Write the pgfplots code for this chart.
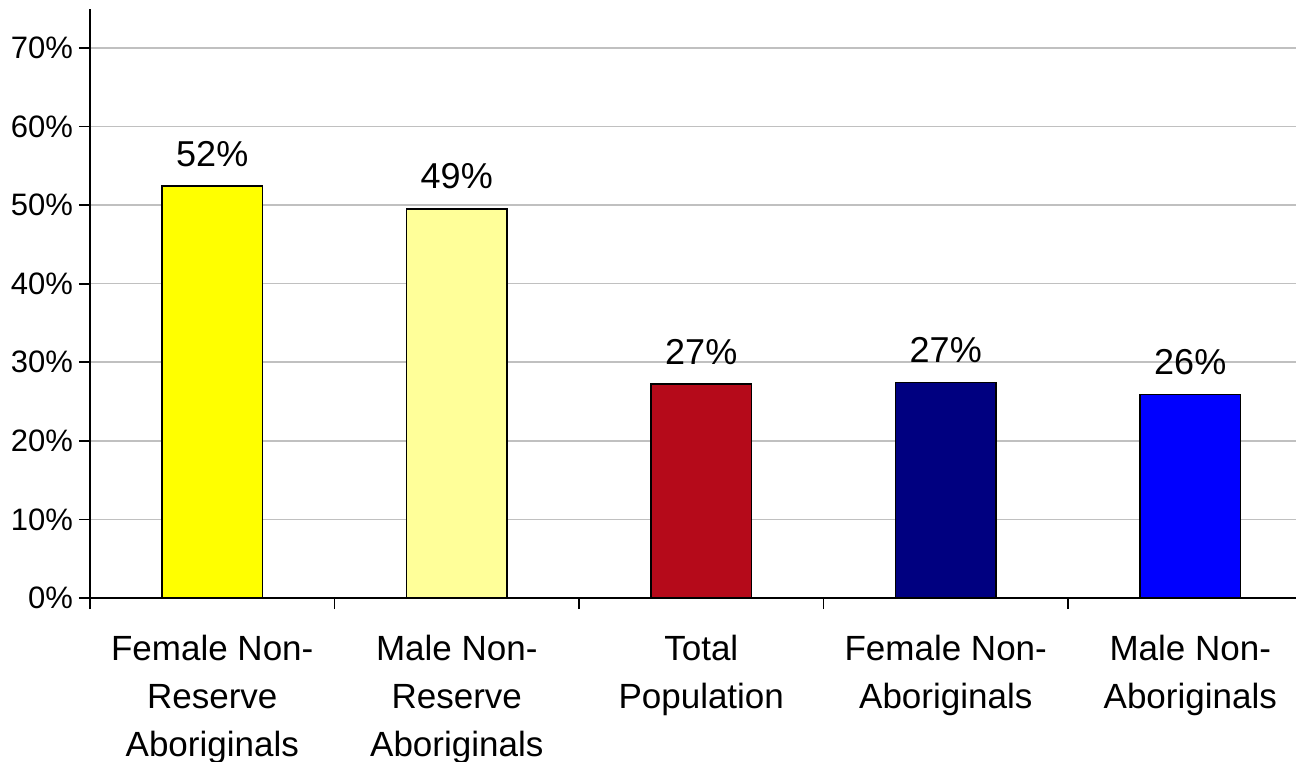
\documentclass[border=0pt]{standalone}
\usepackage{fontspec}
\setmainfont{Liberation Sans}
\usepackage{pgfplots}
\pgfplotsset{compat=1.18}

\definecolor{cyel}{HTML}{FFFF00}
\definecolor{clyel}{HTML}{FFFF99}
\definecolor{cred}{HTML}{B50A1A}
\definecolor{cnavy}{HTML}{000080}
\definecolor{cblue}{HTML}{0000FF}
\definecolor{cgrid}{HTML}{C0C0C0}

\begin{document}
\begin{tikzpicture}
\begin{axis}[
  at={(0,0)}, anchor=south west,
  scale only axis,
  width=611.25pt, height=294.75pt,
  xmin=-0.5, xmax=4.5,
  ymin=0, ymax=75,
  ybar, bar shift=0pt, bar width=0.41,
  axis x line=bottom, axis y line=left,
  axis line style={-, black, line width=0.9pt},
  tick align=outside,
  major tick length=5.5pt,
  tick style={black, line width=0.9pt},
  ytick={0,10,...,70},
  yticklabel={\pgfmathprintnumber{\tick}\%},
  yticklabel style={font=\fontsize{15.5}{18}\selectfont, xshift=0.5pt},
  ymajorgrids,
  grid style={cgrid, line width=0.8pt},
  xtick={-0.5,0.5,...,4.5},
  xticklabels={},
  extra x ticks={0,1,2,3,4},
  extra x tick labels={{Female Non-\\Reserve\\Aboriginals},{Male Non-\\Reserve\\Aboriginals},{Total\\Population},{Female Non-\\Aboriginals},{Male Non-\\Aboriginals}},
  extra x tick style={major tick length=0pt, grid=none},
  xticklabel style={font=\fontsize{17.5}{24}\selectfont, align=center, anchor=north, yshift=-15pt},
  point meta=explicit symbolic,
  nodes near coords,
  every node near coord/.append style={font=\fontsize{18}{22}\selectfont, anchor=base, yshift=10pt},
  /pgf/number format/assume math mode=true,
]
\addplot[fill=cyel, draw=black, line width=0.8pt] coordinates {(0,52.4) [52\%]};
\addplot[fill=clyel, draw=black, line width=0.8pt] coordinates {(1,49.5) [49\%]};
\addplot[fill=cred, draw=black, line width=0.8pt] coordinates {(2,27.2) [27\%]};
\addplot[fill=cnavy, draw=black, line width=0.8pt] coordinates {(3,27.4) [27\%]};
\addplot[fill=cblue, draw=black, line width=0.8pt] coordinates {(4,25.9) [26\%]};
\end{axis}
\pgfresetboundingbox
\useasboundingbox (-45pt,-81.5pt) rectangle (603pt,299pt);
\end{tikzpicture}
\end{document}
